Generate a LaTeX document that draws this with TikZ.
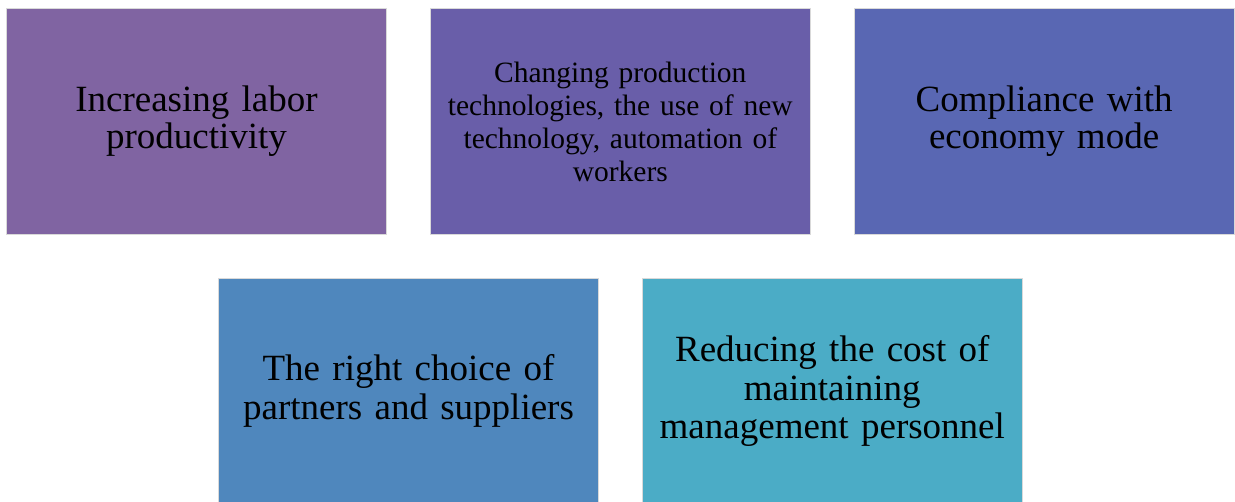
\documentclass[tikz,border=0pt]{standalone}
\usepackage{fontspec}
\setmainfont{Liberation Serif}
\usetikzlibrary{positioning}

\definecolor{boxA}{HTML}{8064A2}
\definecolor{boxB}{HTML}{695EA9}
\definecolor{boxC}{HTML}{5967B3}
\definecolor{boxD}{HTML}{4F87BD}
\definecolor{boxE}{HTML}{4BACC6}

\begin{document}
\begin{tikzpicture}[
        every node/.style={rectangle, draw=white!70!gray, line width=0.5pt,
            minimum width=380pt, minimum height=226pt, inner sep=0pt,
            align=center, text width=370pt},
        big/.style={font=\fontsize{37pt}{37pt}\selectfont},
        small/.style={font=\fontsize{29.5pt}{33pt}\selectfont},
        low/.style={font=\fontsize{37pt}{38.5pt}\selectfont}
    ]
        \useasboundingbox (0pt,0pt) rectangle (1235pt,-501pt);

        % top row
        \node [fill=boxA, big] (labor) at (196.5pt,-121.5pt) {Increasing labor\\productivity};
        \node [fill=boxB, small, right=43.3pt of labor] (tech) {Changing production\\technologies, the use of new\\technology, automation of\\workers};
        \node [fill=boxC, big, right=43.3pt of tech] (economy) {Compliance with\\economy mode};

        % bottom row
        \node [fill=boxD, low] (partners) at (408.5pt,-391pt) {The right choice of\\partners and suppliers};
        \node [fill=boxE, low, right=43.3pt of partners] (cost) {Reducing the cost of\\maintaining\\management personnel};
    \end{tikzpicture}
\end{document}
